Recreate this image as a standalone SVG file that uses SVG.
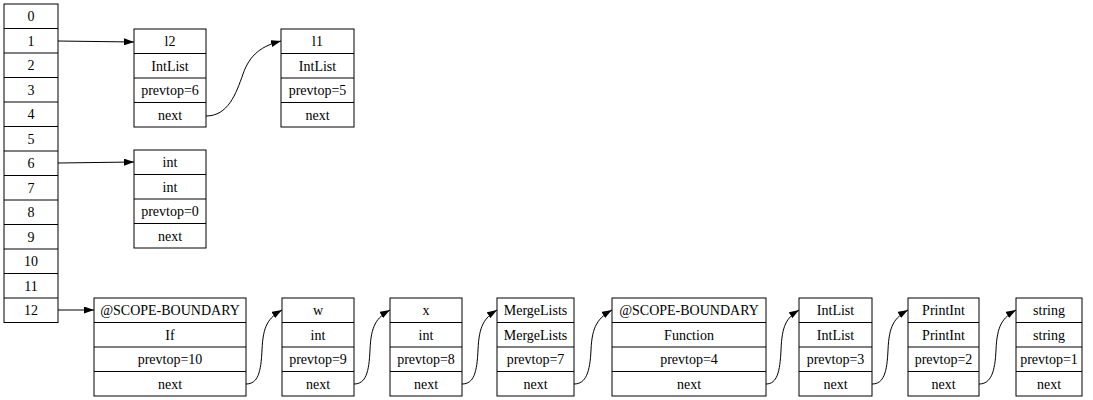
<svg xmlns="http://www.w3.org/2000/svg" width="1093" height="400" viewBox="0 0 1093 400">
  <style>
    .box { fill: #ffffff; stroke: #000000; stroke-width: 1; }
    .div { stroke: #000000; stroke-width: 1; }
    .t { font-family: "Liberation Serif", "Times New Roman", serif; font-size: 14px; fill: #000000; text-anchor: middle; }
    .edge { fill: none; stroke: #000000; stroke-width: 1; marker-end: url(#arrow); }
  </style>
  <defs>
    <marker id="arrow" markerUnits="userSpaceOnUse" viewBox="0 0 10 7" markerWidth="10" markerHeight="7" refX="10" refY="3.5" orient="auto">
      <path d="M0,0 L10,3.5 L0,7 z" fill="#000000"/>
    </marker>
  </defs>
  <rect width="1093" height="400" fill="#ffffff"/>

  <!-- scope stack array -->
  <g id="stack">
    <rect class="box" x="4" y="4" width="54" height="318.5"/>
    <line class="div" x1="4" y1="28.5" x2="58" y2="28.5"/>
    <line class="div" x1="4" y1="53" x2="58" y2="53"/>
    <line class="div" x1="4" y1="77.5" x2="58" y2="77.5"/>
    <line class="div" x1="4" y1="102" x2="58" y2="102"/>
    <line class="div" x1="4" y1="126.5" x2="58" y2="126.5"/>
    <line class="div" x1="4" y1="151" x2="58" y2="151"/>
    <line class="div" x1="4" y1="175.5" x2="58" y2="175.5"/>
    <line class="div" x1="4" y1="200" x2="58" y2="200"/>
    <line class="div" x1="4" y1="224.5" x2="58" y2="224.5"/>
    <line class="div" x1="4" y1="249" x2="58" y2="249"/>
    <line class="div" x1="4" y1="273.5" x2="58" y2="273.5"/>
    <line class="div" x1="4" y1="298" x2="58" y2="298"/>
    <text class="t" x="31" y="21">0</text>
    <text class="t" x="31" y="45.5">1</text>
    <text class="t" x="31" y="70">2</text>
    <text class="t" x="31" y="94.5">3</text>
    <text class="t" x="31" y="119">4</text>
    <text class="t" x="31" y="143.5">5</text>
    <text class="t" x="31" y="168">6</text>
    <text class="t" x="31" y="192.5">7</text>
    <text class="t" x="31" y="217">8</text>
    <text class="t" x="31" y="241.5">9</text>
    <text class="t" x="31" y="266">10</text>
    <text class="t" x="31" y="290.5">11</text>
    <text class="t" x="31" y="315">12</text>
  </g>

  <!-- symbol records: name / type / prevtop / next -->
  <g id="n_l2" transform="translate(134,29)">
    <rect class="box" width="72" height="98"/>
    <line class="div" x1="0" y1="24.5" x2="72" y2="24.5"/><line class="div" x1="0" y1="49" x2="72" y2="49"/><line class="div" x1="0" y1="73.5" x2="72" y2="73.5"/>
    <text class="t" x="36" y="17">l2</text><text class="t" x="36" y="41.5">IntList</text><text class="t" x="36" y="66">prevtop=6</text><text class="t" x="36" y="90.5">next</text>
  </g>
  <g id="n_l1" transform="translate(281,29)">
    <rect class="box" width="73" height="98"/>
    <line class="div" x1="0" y1="24.5" x2="73" y2="24.5"/><line class="div" x1="0" y1="49" x2="73" y2="49"/><line class="div" x1="0" y1="73.5" x2="73" y2="73.5"/>
    <text class="t" x="36.5" y="17">l1</text><text class="t" x="36.5" y="41.5">IntList</text><text class="t" x="36.5" y="66">prevtop=5</text><text class="t" x="36.5" y="90.5">next</text>
  </g>
  <g id="n_int" transform="translate(134,150)">
    <rect class="box" width="72" height="98"/>
    <line class="div" x1="0" y1="24.5" x2="72" y2="24.5"/><line class="div" x1="0" y1="49" x2="72" y2="49"/><line class="div" x1="0" y1="73.5" x2="72" y2="73.5"/>
    <text class="t" x="36" y="17">int</text><text class="t" x="36" y="41.5">int</text><text class="t" x="36" y="66">prevtop=0</text><text class="t" x="36" y="90.5">next</text>
  </g>
  <g id="n_if" transform="translate(94,298)">
    <rect class="box" width="152" height="98"/>
    <line class="div" x1="0" y1="24.5" x2="152" y2="24.5"/><line class="div" x1="0" y1="49" x2="152" y2="49"/><line class="div" x1="0" y1="73.5" x2="152" y2="73.5"/>
    <text class="t" x="76" y="17">@SCOPE-BOUNDARY</text><text class="t" x="76" y="41.5">If</text><text class="t" x="76" y="66">prevtop=10</text><text class="t" x="76" y="90.5">next</text>
  </g>
  <g id="n_w" transform="translate(282,298)">
    <rect class="box" width="72" height="98"/>
    <line class="div" x1="0" y1="24.5" x2="72" y2="24.5"/><line class="div" x1="0" y1="49" x2="72" y2="49"/><line class="div" x1="0" y1="73.5" x2="72" y2="73.5"/>
    <text class="t" x="36" y="17">w</text><text class="t" x="36" y="41.5">int</text><text class="t" x="36" y="66">prevtop=9</text><text class="t" x="36" y="90.5">next</text>
  </g>
  <g id="n_x" transform="translate(390,298)">
    <rect class="box" width="72" height="98"/>
    <line class="div" x1="0" y1="24.5" x2="72" y2="24.5"/><line class="div" x1="0" y1="49" x2="72" y2="49"/><line class="div" x1="0" y1="73.5" x2="72" y2="73.5"/>
    <text class="t" x="36" y="17">x</text><text class="t" x="36" y="41.5">int</text><text class="t" x="36" y="66">prevtop=8</text><text class="t" x="36" y="90.5">next</text>
  </g>
  <g id="n_mergelists" transform="translate(497,298)">
    <rect class="box" width="77" height="98"/>
    <line class="div" x1="0" y1="24.5" x2="77" y2="24.5"/><line class="div" x1="0" y1="49" x2="77" y2="49"/><line class="div" x1="0" y1="73.5" x2="77" y2="73.5"/>
    <text class="t" x="38.5" y="17">MergeLists</text><text class="t" x="38.5" y="41.5">MergeLists</text><text class="t" x="38.5" y="66">prevtop=7</text><text class="t" x="38.5" y="90.5">next</text>
  </g>
  <g id="n_function" transform="translate(612,298)">
    <rect class="box" width="154" height="98"/>
    <line class="div" x1="0" y1="24.5" x2="154" y2="24.5"/><line class="div" x1="0" y1="49" x2="154" y2="49"/><line class="div" x1="0" y1="73.5" x2="154" y2="73.5"/>
    <text class="t" x="77" y="17">@SCOPE-BOUNDARY</text><text class="t" x="77" y="41.5">Function</text><text class="t" x="77" y="66">prevtop=4</text><text class="t" x="77" y="90.5">next</text>
  </g>
  <g id="n_intlist" transform="translate(799,298)">
    <rect class="box" width="73" height="98"/>
    <line class="div" x1="0" y1="24.5" x2="73" y2="24.5"/><line class="div" x1="0" y1="49" x2="73" y2="49"/><line class="div" x1="0" y1="73.5" x2="73" y2="73.5"/>
    <text class="t" x="36.5" y="17">IntList</text><text class="t" x="36.5" y="41.5">IntList</text><text class="t" x="36.5" y="66">prevtop=3</text><text class="t" x="36.5" y="90.5">next</text>
  </g>
  <g id="n_printint" transform="translate(908,298)">
    <rect class="box" width="71" height="98"/>
    <line class="div" x1="0" y1="24.5" x2="71" y2="24.5"/><line class="div" x1="0" y1="49" x2="71" y2="49"/><line class="div" x1="0" y1="73.5" x2="71" y2="73.5"/>
    <text class="t" x="35.5" y="17">PrintInt</text><text class="t" x="35.5" y="41.5">PrintInt</text><text class="t" x="35.5" y="66">prevtop=2</text><text class="t" x="35.5" y="90.5">next</text>
  </g>
  <g id="n_string" transform="translate(1016,298)">
    <rect class="box" width="66" height="98"/>
    <line class="div" x1="0" y1="24.5" x2="66" y2="24.5"/><line class="div" x1="0" y1="49" x2="66" y2="49"/><line class="div" x1="0" y1="73.5" x2="66" y2="73.5"/>
    <text class="t" x="33" y="17">string</text><text class="t" x="33" y="41.5">string</text><text class="t" x="33" y="66">prevtop=1</text><text class="t" x="33" y="90.5">next</text>
  </g>

  <!-- connectors -->
  <g id="edges">
    <path class="edge" d="M58,41 L134,42"/>
    <path class="edge" d="M58,163 L134,162"/>
    <path class="edge" d="M58,310 L94,310"/>
    <path class="edge" d="M206,116 C228,116 236,94 243,74 C250,54 262,46 281,41"/>
    <path class="edge" d="M246,384 C258,384 261,372 262,350 C263,326 268,318 282,310"/>
    <path class="edge" d="M354,384 C366,384 369,372 370,350 C371,326 376,318 390,310"/>
    <path class="edge" d="M462,384 C474,384 477,372 478,350 C479,326 484,318 497,310"/>
    <path class="edge" d="M574,384 C586,384 590,372 591,350 C592,326 598,318 612,310"/>
    <path class="edge" d="M766,384 C777,384 780,372 781,350 C782,326 786,318 799,310"/>
    <path class="edge" d="M872,384 C884,384 887,372 888,350 C889,326 894,318 908,310"/>
    <path class="edge" d="M979,384 C991,384 995,372 996,350 C997,326 1002,318 1016,310"/>
  </g>
</svg>
